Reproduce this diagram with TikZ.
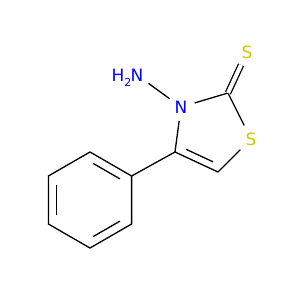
\documentclass[tikz,border=0pt]{standalone}
\usepackage{fontspec}
\setmainfont{DejaVu Sans}
\usetikzlibrary{calc}
\definecolor{nblue}{RGB}{0,0,255}
\definecolor{syel}{RGB}{204,204,0}
\begin{document}
\begin{tikzpicture}[x=1pt,y=-1pt,
  bond/.style={line width=1.3pt, black},
  atom/.style={circle, inner sep=0pt, minimum size=28pt, font=\fontsize{17}{17}\selectfont}]
\useasboundingbox[fill=white] (0,0) rectangle (300,300);
% atoms with labels
\node[atom, text=nblue] (n3) at (181,107) {N};
\node[atom, text=nblue] (nh) at (137,75) {N};
\node[anchor=base east, inner sep=0pt, text=nblue, font=\fontsize{17}{17}\selectfont] (h2) at ($(nh.base)+(-5.5,0)$) {H\raisebox{-0.3em}{\fontsize{11}{11}\selectfont 2}};
\node[atom, text=syel, minimum size=30pt] (s1) at (251,139) {S};
\node[atom, text=syel] (sx) at (247,52) {S};
% carbons
\coordinate (c2) at (228,93);
\coordinate (c4) at (175,152);
\coordinate (c5) at (218,172);
\coordinate (cen) at (210.6,132.8);
\coordinate (p1) at (131.6,176);
\coordinate (p2) at (90,152);
\coordinate (p3) at (48.4,176);
\coordinate (p4) at (48.4,224);
\coordinate (p5) at (90,248);
\coordinate (p6) at (131.6,224);
\coordinate (pc) at (90,200);
% thiazole ring
\draw[bond] (n3) -- (c2);
\draw[bond] (c2) -- (s1);
\draw[bond] (s1) -- (c5);
\draw[bond] (c5) -- (c4);
\draw[bond] (c4) -- (n3);
\draw[bond] ($(c4)!0.1!(c5)!0.22!(cen)$) -- ($(c5)!0.1!(c4)!0.22!(cen)$);
% substituents
\draw[bond] (n3) -- (nh);
\draw[bond, double, double distance=4pt] (c2) -- (sx);
\draw[bond] (c4) -- (p1);
% phenyl
\draw[bond] (p1) -- (p2) -- (p3) -- (p4) -- (p5) -- (p6) -- cycle;
\draw[bond] ($(p1)!0.1!(p2)!0.2!(pc)$) -- ($(p2)!0.1!(p1)!0.2!(pc)$);
\draw[bond] ($(p3)!0.1!(p4)!0.2!(pc)$) -- ($(p4)!0.1!(p3)!0.2!(pc)$);
\draw[bond] ($(p5)!0.1!(p6)!0.2!(pc)$) -- ($(p6)!0.1!(p5)!0.2!(pc)$);
\end{tikzpicture}
\end{document}
